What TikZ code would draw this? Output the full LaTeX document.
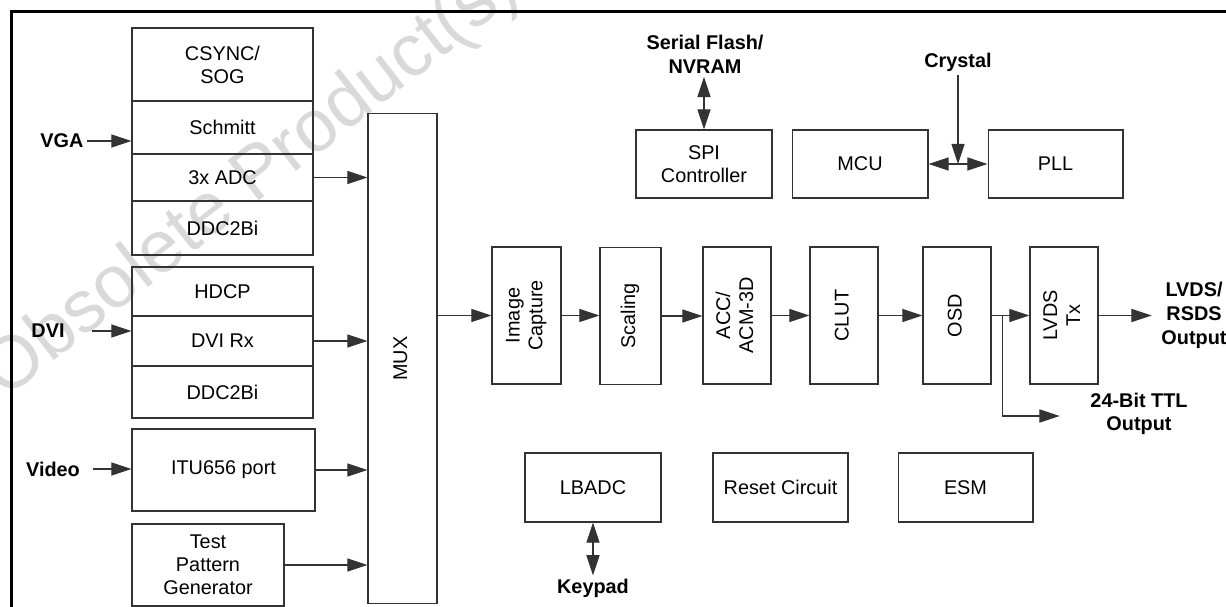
\documentclass[tikz,border=0pt]{standalone}
\usepackage{fontspec}
\setmainfont{Liberation Sans}
\usetikzlibrary{arrows.meta,positioning,calc}
\newcommand{\vtext}[1]{\rotatebox{90}{\begin{tabular}{@{}c@{}}#1\end{tabular}}}

\begin{document}
\begin{tikzpicture}[
  x=0.02cm, y=-0.02cm,
  font=\fontsize{11.3}{13}\selectfont,
  blk/.style={
    rectangle, draw=black!80, line width=0.6pt,
    inner sep=0pt, align=center
  },
  lbl/.style={
    font=\fontsize{11.3}{13.5}\selectfont\bfseries,
    align=center, inner sep=2pt
  },
  arr/.style={-{Triangle[length=11.5pt,width=7.5pt]}, line width=0.6pt, draw=black!80},
  darr/.style={{Triangle[length=11.5pt,width=7.5pt]}-{Triangle[length=11.5pt,width=7.5pt]}, line width=0.6pt, draw=black!80}
]
\useasboundingbox (0,0) rectangle (1226,607);

\node[text=black!15, font=\fontsize{42}{42}\selectfont, rotate=38] (wmark) at (252,182) {Obsolete Product(s)};

\draw[line width=1.5pt] (11.5,607) -- (11.5,11.5) -- (1226,11.5);

\node[blk, minimum width=3.62cm, minimum height=1.46cm] (csync) at (222.5,64.5) {CSYNC/\\SOG};
\node[blk, minimum width=3.62cm, minimum height=1.06cm] (schmitt) at (222.5,127.5) {Schmitt};
\node[blk, minimum width=3.62cm, minimum height=0.94cm] (adc) at (222.5,177.5) {3x ADC};
\node[blk, minimum width=3.62cm, minimum height=1.08cm] (ddca) at (222.5,228) {DDC2Bi};

\node[blk, minimum width=3.62cm, minimum height=0.98cm] (hdcp) at (222.5,291.5) {HDCP};
\node[blk, minimum width=3.62cm, minimum height=1.00cm] (dvirx) at (222.5,341) {DVI Rx};
\node[blk, minimum width=3.62cm, minimum height=1.04cm] (ddcb) at (222.5,392) {DDC2Bi};

\node[blk, minimum width=3.66cm, minimum height=1.64cm] (itu) at (223.5,470) {ITU656 port};
\node[blk, minimum width=3.04cm, minimum height=1.64cm] (tpg) at (208,565) {Test\\Pattern\\Generator};

\node[blk, minimum width=1.38cm, minimum height=9.82cm] (mux) at (402.5,358.5) {\vtext{MUX}};

\node[lbl] (vga) at (62,141) {VGA};
\node[lbl] (dvi) at (48,331) {DVI};
\node[lbl] (video) at (53,469) {Video};

\draw[arr] (vga.east) -- (vga.east -| schmitt.west);
\draw[arr] ([xshift=0.48cm]dvi.east) -- (dvi.east -| dvirx.west);
\draw[arr] ([xshift=0.18cm]video.east) -- (video.east -| itu.west);
\foreach \n in {adc,dvirx,itu,tpg} {
  \draw[arr] (\n.east) -- (\n.east -| mux.west);
}

\node[blk, minimum width=1.38cm, minimum height=2.74cm] (cap) at (526.5,315.5) {\vtext{Image\\Capture}};
\node[blk, minimum width=1.22cm, minimum height=2.74cm] (scal) at (630.5,316) {\vtext{Scaling}};
\node[blk, minimum width=1.36cm, minimum height=2.74cm] (acc) at (737,315.5) {\vtext{ACC/\\ACM-3D}};
\node[blk, minimum width=1.36cm, minimum height=2.74cm] (clut) at (844,315.5) {\vtext{CLUT}};
\node[blk, minimum width=1.36cm, minimum height=2.74cm] (osd) at (957,315.5) {\vtext{OSD}};
\node[blk, minimum width=1.36cm, minimum height=2.74cm] (lvds) at (1064,315.5) {\vtext{LVDS\\Tx}};

\node[lbl] (lvdsout) at (1194,315.5) {LVDS/\\RSDS\\Output};
\node[lbl] (ttl) at (1139,414) {24-Bit TTL\\Output};

\draw[arr] (cap.west -| mux.east) -- (cap.west);
\foreach \a/\b in {cap/scal,scal/acc,acc/clut,clut/osd,osd/lvds} {
  \draw[arr] (\a.east) -- (\a.east -| \b.west);
}
\coordinate (tap) at ($(osd.east)!0.3!(lvds.west)$);
\draw[arr] (tap) |- ([xshift=-0.54cm,yshift=-0.04cm]ttl.west);
\draw[arr] (lvds.east) -- ([xshift=-0.12cm]lvdsout.west);

\node[blk, minimum width=2.72cm, minimum height=1.36cm] (spi) at (704,164) {SPI\\Controller};
\node[blk, minimum width=2.72cm, minimum height=1.36cm] (mcu) at (860,164) {MCU};
\node[blk, minimum width=2.70cm, minimum height=1.36cm] (pll) at (1055.5,164) {PLL};

\node[lbl] (flash) at (705,54) {Serial Flash/\\NVRAM};
\node[lbl] (crystal) at (958,62) {Crystal};

\draw[darr] (spi.north) -- (spi.north |- flash.south);
\draw[arr] (crystal.south) -- (crystal.south |- mcu.east);
\draw[darr] (mcu.east) -- (pll.west);

\node[blk, minimum width=2.72cm, minimum height=1.38cm] (lbadc) at (593,487.5) {LBADC};
\node[blk, minimum width=2.70cm, minimum height=1.38cm] (reset) at (780.5,487.5) {Reset Circuit};
\node[blk, minimum width=2.70cm, minimum height=1.38cm] (esm) at (965.5,487.5) {ESM};

\node[lbl] (keypad) at (593,588.5) {Keypad};
\draw[darr] (lbadc.south) -- (keypad.north);
\end{tikzpicture}
\end{document}
